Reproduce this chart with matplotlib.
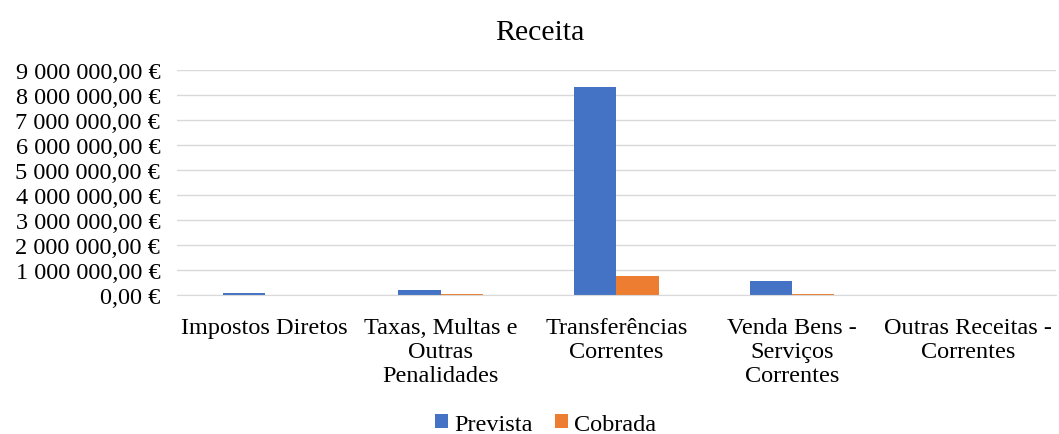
import matplotlib
matplotlib.use("Agg")
import matplotlib.pyplot as plt
import numpy as np
from matplotlib.ticker import FuncFormatter, MultipleLocator

plt.rcParams['font.family'] = ['Liberation Serif', 'DejaVu Serif']

categorias = ["Impostos Diretos", "Taxas, Multas e\nOutras\nPenalidades",
              "Transferências\nCorrentes", "Venda Bens -\nServiços\nCorrentes",
              "Outras Receitas -\nCorrentes"]
prevista = [80000, 190000, 8320000, 570000, 5000]
cobrada = [10000, 60000, 760000, 50000, 2000]

def euro(v, pos):
    s = f"{v:,.2f}".replace(",", " ").replace(".", ",")
    return s + " €"

fig = plt.figure(figsize=(10.59, 4.35), dpi=100)
ax = fig.add_axes([0.167, 0.3195, 0.83, 0.5175])

x = np.arange(len(categorias))
w = 0.24
ax.bar(x - w / 2, prevista, w, color="#4472C4", label="Prevista")
ax.bar(x + w / 2, cobrada, w, color="#ED7D31", label="Cobrada")

ax.set_xlim(-0.5, len(categorias) - 0.5)
ax.set_ylim(0, 9000000)
ax.yaxis.set_major_locator(MultipleLocator(1000000))
ax.yaxis.set_major_formatter(FuncFormatter(euro))
ax.grid(axis="y", color="#D9D9D9", linewidth=1)
ax.set_axisbelow(True)
for s in ["top", "right", "left"]:
    ax.spines[s].set_visible(False)
ax.spines["bottom"].set_color("#D9D9D9")
ax.tick_params(axis="both", length=0, labelsize=17.5, colors="#000000")
ax.tick_params(axis="y", pad=12)
ax.tick_params(axis="x", pad=16)
ax.set_xticks(x)
ax.set_xticklabels(categorias, linespacing=1.17, va="top")

fig.text(0.51, 0.955, "Receita", fontsize=21.5, ha="center", va="top")

fig.legend(loc="lower center", ncol=2, frameon=False, fontsize=17.5,
           bbox_to_anchor=(0.515, -0.035), handlelength=0.55, handleheight=0.55,
           columnspacing=0.9, handletextpad=0.25, borderaxespad=0.2)

fig.savefig("out.png", dpi=100)
